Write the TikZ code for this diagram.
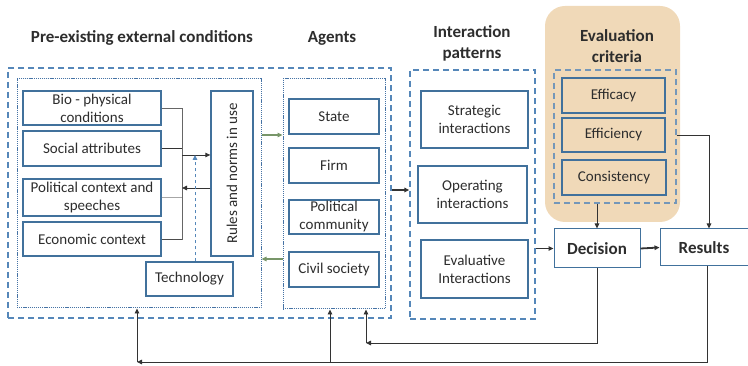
\documentclass[tikz,border=0pt]{standalone}
\usepackage{fontspec}
\setmainfont{Carlito}
\usetikzlibrary{arrows.meta,fit}
\definecolor{bxblue}{RGB}{65,113,156}
\definecolor{dshblue}{RGB}{85,135,185}
\definecolor{dotblue}{RGB}{70,115,165}
\definecolor{tanfill}{RGB}{240,217,184}
\definecolor{grn}{RGB}{120,150,105}
\definecolor{txt}{RGB}{45,45,45}
\begin{document}
\begin{tikzpicture}[x=1pt,y=-1pt,
  box/.style={draw=bxblue, line width=1.3pt, fill=white, text=txt, align=center,
    font=\fontsize{15}{18}\selectfont, inner sep=0pt},
  ebox/.style={box, fill=tanfill},
  dbox/.style={draw=dshblue, line width=1.3pt, dash pattern=on 6pt off 4pt, inner sep=0pt},
  obox/.style={draw=dotblue, line width=1pt, dash pattern=on 1.2pt off 0.9pt, inner sep=0pt},
  head/.style={font=\fontsize{17}{21}\selectfont\bfseries, text=txt, align=center},
  conn/.style={line width=0.9pt, draw=black!80},
  arr/.style={conn, -{Triangle[length=5pt,width=4.5pt]}},
  garr/.style={line width=1.2pt, draw=grn, -{Triangle[length=5pt,width=4.5pt]}}
]
\useasboundingbox (0,0) rectangle (748,366);

% headers
\node[head] (h1) at (142,38) {Pre-existing external conditions};
\node[head] (h2) at (332,38) {Agents};
\node[head] (h3) at (472,43) {Interaction\\patterns};

% evaluation background
\node[fill=tanfill, rounded corners=20pt, inner sep=0pt, fit={(545,6)(680,222)}] (evbg) {};
\node[head] (h4) at (617,46) {Evaluation\\criteria};

% containers
\node[dbox, fit={(8,68)(391,318)}] (outer) {};
\node[obox, fit={(17,79)(261,308)}] (box1) {};
\node[obox, fit={(283,79)(385,309)}] (agents) {};
\node[dbox, fit={(410,70)(535,319)}] (inter) {};
\node[dbox, draw=dshblue!80!tanfill, fit={(554,70)(676,203)}] (evd) {};

% left boxes
\node[box, minimum width=138pt, minimum height=34pt] (bio) at (92,108) {Bio - physical\\conditions};
\node[box, minimum width=138pt, minimum height=35pt] (soc) at (92,148.5) {Social attributes};
\node[box, minimum width=138pt, minimum height=37pt] (pol) at (92,197.5) {Political context and\\speeches};
\node[box, minimum width=138pt, minimum height=34pt] (eco) at (92,239) {Economic context};
\node[box, minimum width=42pt, minimum height=165pt] (rules) at (232,173.5) {};
\node[rotate=90, font=\fontsize{15}{18}\selectfont, text=txt] (rulest) at (rules.center) {Rules and norms in use};
\node[box, line width=1.1pt, minimum width=87pt, minimum height=34pt] (tech) at (189.5,279) {Technology};

% agents
\node[box, minimum width=90pt, minimum height=35pt] (state) at (334,116.5) {State};
\node[box, minimum width=90pt, minimum height=35pt] (firm) at (334,165.5) {Firm};
\node[box, minimum width=90pt, minimum height=34pt] (polc) at (334,217) {Political\\community};
\node[box, minimum width=90pt, minimum height=35pt] (civ) at (334,269.5) {Civil society};

% interactions
\node[box, minimum width=107pt, minimum height=57pt] (strat) at (474.5,119.5) {Strategic\\interactions};
\node[box, minimum width=109pt, minimum height=57pt] (oper) at (472.5,194.5) {Operating\\interactions};
\node[box, minimum width=107pt, minimum height=58pt] (evali) at (474.5,269) {Evaluative\\Interactions};

% evaluation criteria
\node[ebox, minimum width=103pt, minimum height=35pt] (effic) at (613.5,95.5) {Efficacy};
\node[ebox, minimum width=103pt, minimum height=34pt] (effi) at (613.5,135) {Efficiency};
\node[ebox, minimum width=104pt, minimum height=35pt] (cons) at (614,177.5) {Consistency};

% decision / results
\node[box, line width=1pt, minimum width=86pt, minimum height=39pt, font=\fontsize{17}{20}\selectfont\bfseries] (dec) at (597,248.5) {Decision};
\node[box, line width=1pt, minimum width=88pt, minimum height=37pt, font=\fontsize{17}{20}\selectfont\bfseries] (res) at (704,247.5) {Results};

% left bus
\coordinate (busB) at (182,240);
\coordinate (a1) at (182,155);
\coordinate (a2) at (182,188);
\draw[conn, draw=black!60] (bio.east) -| (busB);
\draw[conn] (soc.east) -- (soc.east -| busB);
\draw[conn, draw=black!35] (pol.east) -- (pol.east -| busB);
\draw[conn, draw=black!70] (eco.east) -- (eco.east -| busB);
\draw[arr] (a1) -- (a1 -| rules.west);
\draw[arr] (a2 -| rules.west) -- (a2);
\draw[line width=0.9pt, draw=dshblue, dashed, -{Triangle[length=5pt,width=4.5pt]}]
  ([xshift=5.5pt]tech.north) -- ([xshift=5.5pt]tech.north |- a1);

% green arrows
\coordinate (g1) at (0,135);
\coordinate (g2) at (0,259);
\draw[garr] (box1.east |- g1) -- (agents.west |- g1);
\draw[garr] (agents.west |- g2) -- (box1.east |- g2);

% main flow
\coordinate (m1) at (0,190);
\draw[arr, line width=1.3pt] (outer.east |- m1) -- (inter.west |- m1);
\draw[arr, line width=1.3pt] (inter.east |- dec.west) -- (dec.west);
\draw[arr, line width=1.8pt] (dec.east) -- (res.west);
\draw[arr] (evd.south -| dec.north) -- (dec.north);
\draw[arr] (evd.east |- effi.east) -| ([xshift=5pt]res.north);

% feedback
\coordinate (f1) at (366,343);
\coordinate (f2) at (137,362);
\coordinate (f3) at (330,362);
\draw[arr] (dec.south) |- (f1);
\draw[arr] (f1) -- (f1 |- agents.south);
\draw[arr] ([xshift=3pt]res.south) |- (f2);
\draw[arr] (f2) -- (f2 |- box1.south);
\draw[arr] (f3) -- (f3 |- agents.south);
\end{tikzpicture}
\end{document}
